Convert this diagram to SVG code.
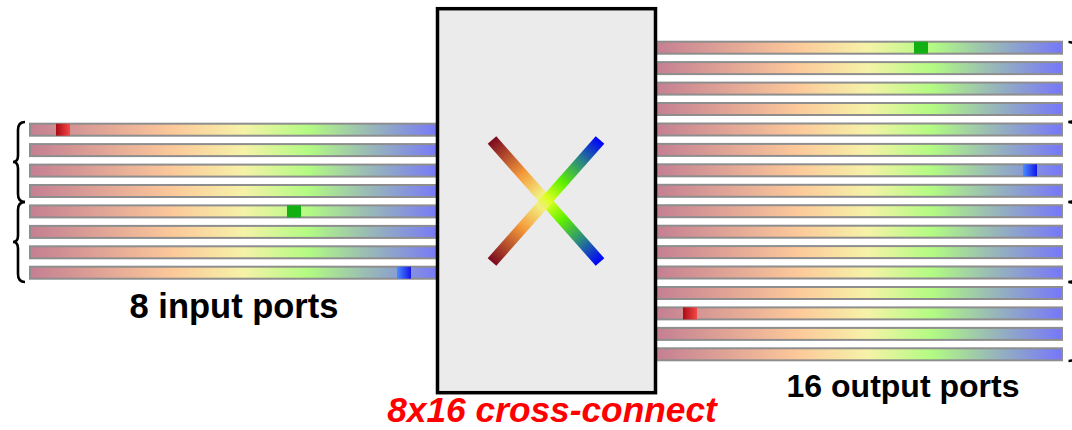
<svg xmlns="http://www.w3.org/2000/svg" width="1072" height="430" viewBox="0 0 1072 430">
<defs>
<linearGradient id="bar" x1="0" y1="0" x2="1" y2="0">
<stop offset="0" stop-color="#c47f92"/>
<stop offset="0.35" stop-color="#fcc99a"/>
<stop offset="0.52" stop-color="#f6f2a8"/>
<stop offset="0.68" stop-color="#b2fb82"/>
<stop offset="0.83" stop-color="#98b8b8"/>
<stop offset="1" stop-color="#7676fa"/>
</linearGradient>
<linearGradient id="red" x1="0" y1="0" x2="1" y2="0">
<stop offset="0" stop-color="#a80c14"/>
<stop offset="1" stop-color="#f44848"/>
</linearGradient>
<linearGradient id="blue" x1="0" y1="0" x2="1" y2="0">
<stop offset="0" stop-color="#4a8cff"/>
<stop offset="1" stop-color="#1414e6"/>
</linearGradient>
<linearGradient id="x1g" gradientUnits="userSpaceOnUse" x1="492" y1="140" x2="600" y2="262">
<stop offset="0" stop-color="#7a0a20"/>
<stop offset="0.28" stop-color="#f59a3a"/>
<stop offset="0.45" stop-color="#f2ee80"/>
<stop offset="0.52" stop-color="#dcff20"/>
<stop offset="0.65" stop-color="#60f000"/>
<stop offset="0.82" stop-color="#2a8a80"/>
<stop offset="1" stop-color="#0000ff"/>
</linearGradient>
<linearGradient id="x2g" gradientUnits="userSpaceOnUse" x1="492" y1="262" x2="600" y2="140">
<stop offset="0" stop-color="#7a0a20"/>
<stop offset="0.28" stop-color="#f59a3a"/>
<stop offset="0.45" stop-color="#f2ee80"/>
<stop offset="0.52" stop-color="#dcff20"/>
<stop offset="0.65" stop-color="#60f000"/>
<stop offset="0.82" stop-color="#2a8a80"/>
<stop offset="1" stop-color="#0000ff"/>
</linearGradient>
</defs>
<style>
.bar{fill:url(#bar);stroke:#8e8e8e;stroke-width:2}
.mk{stroke:none}
.brace{fill:none;stroke:#000;stroke-width:2.6}
.lbl{font-family:"Liberation Sans",Arial,sans-serif;font-weight:bold;fill:#000;text-anchor:middle}
</style>
<rect width="1072" height="430" fill="#fff"/>

<g id="input-ports">
<rect class="bar" x="30" y="123.7" width="410" height="12"/>
<rect class="bar" x="30" y="144.1" width="410" height="12"/>
<rect class="bar" x="30" y="164.6" width="410" height="12"/>
<rect class="bar" x="30" y="185" width="410" height="12"/>
<rect class="bar" x="30" y="205.4" width="410" height="12"/>
<rect class="bar" x="30" y="225.9" width="410" height="12"/>
<rect class="bar" x="30" y="246.3" width="410" height="12"/>
<rect class="bar" x="30" y="266.7" width="410" height="12"/>
<rect class="mk" x="56" y="123.7" width="14" height="12" fill="url(#red)"/>
<rect class="mk" x="287" y="205.4" width="14" height="12" fill="#12b012"/>
<rect class="mk" x="397" y="266.7" width="14" height="12" fill="url(#blue)"/>
</g>

<g id="input-braces">
<path class="brace" d="M25 122 Q18 122 18 130 L18 155.5 Q18 162 13 162 Q18 162 18 168.5 L18 194 Q18 202 25 202"/>
<path class="brace" d="M25 202 Q18 202 18 210 L18 235.5 Q18 242 13 242 Q18 242 18 248.5 L18 274 Q18 282 25 282"/>
</g>

<g id="output-ports">
<rect class="bar" x="656" y="41.7" width="406" height="12"/>
<rect class="bar" x="656" y="62.1" width="406" height="12"/>
<rect class="bar" x="656" y="82.6" width="406" height="12"/>
<rect class="bar" x="656" y="103" width="406" height="12"/>
<rect class="bar" x="656" y="123.5" width="406" height="12"/>
<rect class="bar" x="656" y="143.9" width="406" height="12"/>
<rect class="bar" x="656" y="164.3" width="406" height="12"/>
<rect class="bar" x="656" y="184.8" width="406" height="12"/>
<rect class="bar" x="656" y="205.2" width="406" height="12"/>
<rect class="bar" x="656" y="225.7" width="406" height="12"/>
<rect class="bar" x="656" y="246.1" width="406" height="12"/>
<rect class="bar" x="656" y="266.5" width="406" height="12"/>
<rect class="bar" x="656" y="287" width="406" height="12"/>
<rect class="bar" x="656" y="307.4" width="406" height="12"/>
<rect class="bar" x="656" y="327.9" width="406" height="12"/>
<rect class="bar" x="656" y="348.3" width="406" height="12"/>
<rect class="mk" x="914" y="41.7" width="14" height="12" fill="#12b012"/>
<rect class="mk" x="1023" y="164.3" width="14" height="12" fill="url(#blue)"/>
<rect class="mk" x="683" y="307.4" width="14" height="12" fill="url(#red)"/>
</g>

<g id="output-braces">
<path class="brace" d="M1068.5 42 Q1076 42 1076 50 L1076 76 Q1076 82 1081 82 Q1076 82 1076 88 L1076 114 Q1076 122 1068.5 122"/>
<path class="brace" d="M1068.5 122 Q1076 122 1076 130 L1076 156 Q1076 162 1081 162 Q1076 162 1076 168 L1076 194 Q1076 202 1068.5 202"/>
<path class="brace" d="M1068.5 202 Q1076 202 1076 210 L1076 236 Q1076 242 1081 242 Q1076 242 1076 248 L1076 274 Q1076 282 1068.5 282"/>
<path class="brace" d="M1068.5 282 Q1076 282 1076 290 L1076 315 Q1076 321 1081 321 Q1076 321 1076 327 L1076 353 Q1076 361 1068.5 361"/>
</g>

<g id="cross-connect">
<rect x="437.5" y="8.7" width="218" height="384" fill="#ebebeb" stroke="#000" stroke-width="3.5"/>
<line x1="492" y1="140" x2="600" y2="262" stroke="url(#x1g)" stroke-width="11.5"/>
<line x1="492" y1="262" x2="600" y2="140" stroke="url(#x2g)" stroke-width="11.5"/>
</g>

<g id="labels">
<text class="lbl" x="234" y="318" font-size="34.5">8 input ports</text>
<text class="lbl" x="903" y="397" font-size="32">16 output ports</text>
<text class="lbl" x="552" y="422" font-size="35.3" font-style="italic" fill="#ff0000" style="fill:#ff0000">8x16 cross-connect</text>
</g>
</svg>
